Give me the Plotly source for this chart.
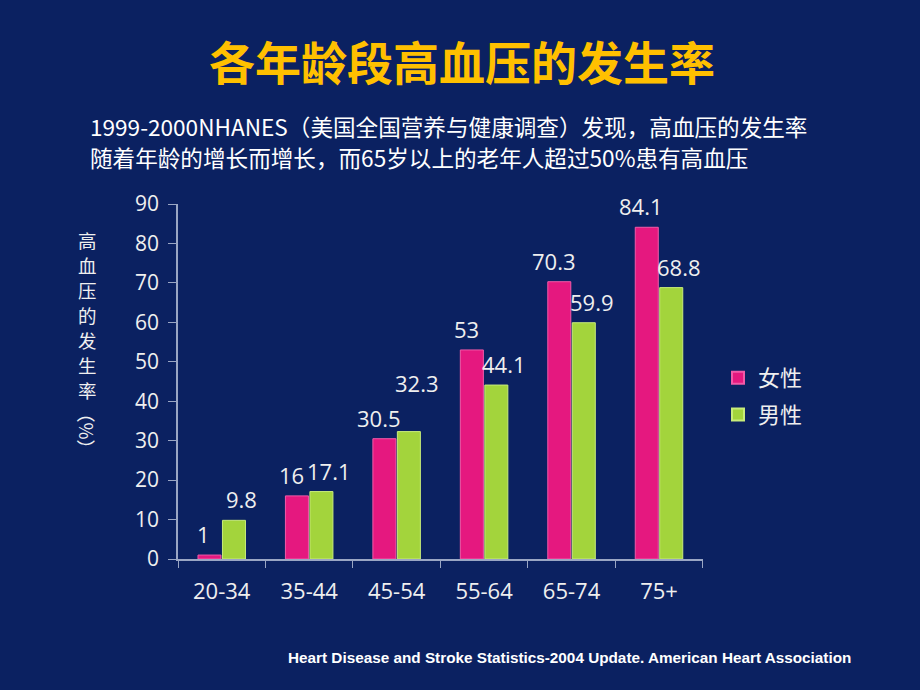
import plotly.graph_objects as go

categories = ["20-34", "35-44", "45-54", "55-64", "65-74", "75+"]
female = [1, 16, 30.5, 53, 70.3, 84.1]
male = [9.8, 17.1, 32.3, 44.1, 59.9, 68.8]
series_names = ["女性", "男性"]
y_ticks = [0, 10, 20, 30, 40, 50, 60, 70, 80, 90]

title_text = "各年龄段高血压的发生率"
subtitle_lines = ["1999-2000NHANES（美国全国营养与健康调查）发现，高血压的发生率",
                  "随着年龄的增长而增长，而65岁以上的老年人超过50%患有高血压"]
ylabel_chars = "高血压的发生率"
ylabel_unit = "（%）"
footer = "Heart Disease and Stroke Statistics-2004 Update. American Heart Association"

W, H = 920, 690
L, R, T, B = 178, 217, 204, 131
PW, PH = W - L - R, H - T - B


def px(x):
    return (x - L) / PW


def py(y):
    return (H - B - y) / PH


BG = "#0B2161"
PINK = "#E5187F"
GREEN = "#A3D43C"
AXIS = "#9AA6C4"
NUM_FONT = "Open Sans"
CJK = "Noto Sans CJK SC"
TXT = "#EFEFEF"

fig = go.Figure()
fig.add_trace(go.Bar(x=categories, y=female, name=series_names[0],
                     marker=dict(color=PINK, line=dict(color="#F25AA8", width=1)),
                     legendgroup="f"))
fig.add_trace(go.Bar(x=categories, y=male, name=series_names[1],
                     marker=dict(color=GREEN, line=dict(color="#C8EC7A", width=1)),
                     legendgroup="m"))

annotations = []
for c, f, m in zip(categories, female, male):
    close = abs(f - m) < 5 and len(f"{f:g}") + len(f"{m:g}") > 6
    annotations.append(dict(x=c, y=f, xref="x", yref="y", text=f"{f:g}",
                            showarrow=False, xshift=-18, yshift=21,
                            yanchor="middle",
                            font=dict(family=NUM_FONT, size=22, color=TXT)))
    annotations.append(dict(x=c, y=m, xref="x", yref="y", text=f"{m:g}",
                            showarrow=False, xshift=20,
                            yshift=21 + (28 if close else 0),
                            yanchor="middle",
                            font=dict(family=NUM_FONT, size=22, color=TXT)))

annotations.append(dict(x=px(462), y=py(60), xref="paper", yref="paper",
                        xanchor="center", yanchor="middle",
                        text="<b>" + title_text + "</b>", showarrow=False,
                        font=dict(family=CJK, size=46, color="#FFC000")))
for line, ypos in zip(subtitle_lines, (126, 157)):
    annotations.append(dict(x=px(88), y=py(ypos), xref="paper", yref="paper",
                            xanchor="left", yanchor="middle", align="left",
                            text=line, showarrow=False,
                            font=dict(family=CJK, size=22.6, color="#FFFFFF")))
for i, ch in enumerate(ylabel_chars):
    annotations.append(dict(x=px(87), y=py(240 + 25 * i), xref="paper", yref="paper",
                            xanchor="center", yanchor="middle", borderpad=0,
                            text=ch, showarrow=False,
                            font=dict(family=CJK, size=18.5, color=TXT)))
annotations.append(dict(x=px(87), y=py(431), xref="paper", yref="paper",
                        xanchor="center", yanchor="middle", textangle=90,
                        borderpad=0, text=ylabel_unit, showarrow=False,
                        font=dict(family=CJK, size=18.5, color=TXT)))
annotations.append(dict(x=px(853), y=py(657), xref="paper", yref="paper",
                        xanchor="right", yanchor="middle",
                        text="<b>" + footer + "</b>", showarrow=False,
                        font=dict(family="Liberation Sans", size=15.3, color="#FFFFFF")))

fig.update_layout(
    width=W, height=H,
    paper_bgcolor=BG, plot_bgcolor=BG,
    margin=dict(l=L, r=R, t=T, b=B, autoexpand=False),
    barmode="group", bargap=0.44, bargroupgap=0.06,
    showlegend=True,
    legend=dict(x=px(718), y=py(357), xanchor="left", yanchor="top",
                font=dict(family=CJK, size=22, color=TXT),
                bgcolor="rgba(0,0,0,0)", tracegroupgap=5,
                itemsizing="constant"),
    annotations=annotations,
)
fig.update_xaxes(
    type="category", showline=True, linecolor=AXIS, linewidth=1.5,
    ticks="outside", ticklen=7, tickcolor=AXIS, tickson="boundaries",
    ticklabelstandoff=12,
    tickfont=dict(family=NUM_FONT, size=22, color=TXT),
    showgrid=False, zeroline=False,
)
fig.update_yaxes(
    range=[0, 90], tickvals=y_ticks, showline=True, linecolor=AXIS, linewidth=1.5,
    ticks="outside", ticklen=8, tickcolor=AXIS, ticklabelstandoff=5,
    tickfont=dict(family=NUM_FONT, size=21, color=TXT),
    showgrid=False, zeroline=False,
)

fig.write_html("out.html", config={"displayModeBar": False},
               post_script="document.body.style.margin='0';")
